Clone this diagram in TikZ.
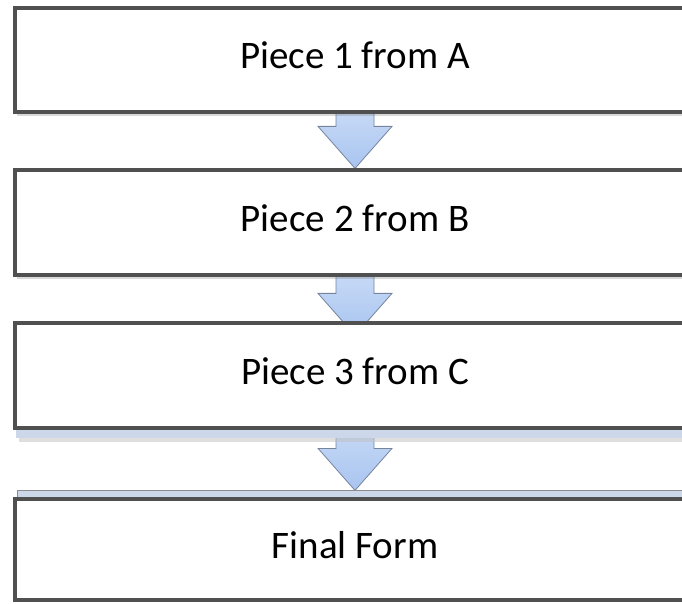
\documentclass[tikz,border=0pt]{standalone}
\usepackage{fontspec}
\setmainfont{Carlito}
\usetikzlibrary{calc,backgrounds,shadows}
\definecolor{boxline}{RGB}{80,80,80}
\definecolor{arrowtop}{RGB}{198,217,246}
\definecolor{arrowbot}{RGB}{168,196,240}
\definecolor{arrowline}{RGB}{118,132,156}
\definecolor{strip}{RGB}{204,215,234}

% block arrow from the bottom of one box to the top of the next
\newcommand{\flowarrow}[3]{%
  \path[arrowbody] let \p1=(#1.south), \p2=($(#2.north)+(0,#3)$) in
    (\x1-19,\y1) -- (\x1+19,\y1) -- (\x1+19,\y2+42) -- (\x1+37,\y2+42)
    -- (\x1,\y2) -- (\x1-37,\y2+42) -- (\x1-19,\y2+42) -- cycle;
}

\begin{document}
\begin{tikzpicture}[x=1pt, y=1pt,
    piece/.style={draw=boxline, line width=3.2pt, fill=white,
      minimum width=680pt, inner sep=0pt, text depth=9pt,
      font=\fontsize{39}{44}\selectfont},
    shade/.style={drop shadow={shadow xshift=2pt, shadow yshift=-4pt,
      opacity=0.25, fill=black!60}},
    arrowbody/.style={top color=arrowtop, bottom color=arrowbot,
      draw=arrowline, line width=0.8pt, line join=miter}]
                \useasboundingbox (0,0) rectangle (682,603);
                \clip (0,0) rectangle (682,603);

                % Nodes
                \node[piece, shade, minimum height=104pt] (b1) at (355, 543) {Piece 1 from A};
                \node[piece, shade, minimum height=105pt] (b2) at (355, 380.5) {Piece 2 from B};
                \node[piece, minimum height=105pt] (b3) at (355, 227.5) {Piece 3 from C};
                \node[piece, minimum height=101pt] (b4) at (355, 53.5) {Final Form};

                % Arrows
                \begin{scope}[on background layer]
                \flowarrow{b1}{b2}{0}
                \flowarrow{b2}{b3}{-14}
                \flowarrow{b3}{b4}{7}
                % strips under box 3 and over box 4
                \fill[black!25, opacity=0.5] ($(b3.south west)+(6,-4)$) rectangle ($(b3.south east)+(0,-12)$);
                \fill[strip] ($(b3.south west)+(3,0)$) rectangle ($(b3.south east)+(0,-8)$);
                \filldraw[strip, draw=black!45, line width=0.8pt] ($(b4.north west)+(4,0)$) rectangle ($(b4.north east)+(0,7)$);
                \end{scope}
            \end{tikzpicture}
\end{document}
